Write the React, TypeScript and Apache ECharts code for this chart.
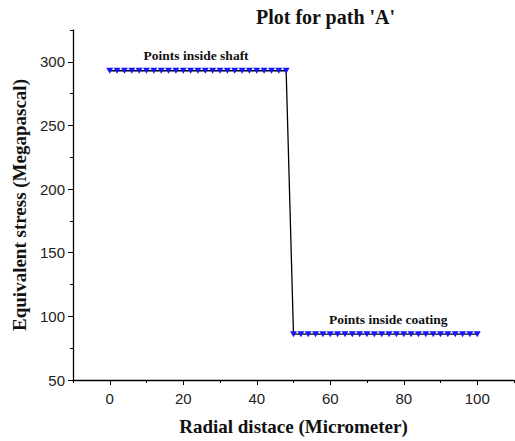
import React, { useEffect, useRef } from "react";
import * as echarts from "echarts";

const shaftX = [0, 2, 4, 6, 8, 10, 12, 14, 16, 18, 20, 22, 24, 26, 28, 30, 32, 34, 36, 38, 40, 42, 44, 46, 48];
const shaftY = 293;
const coatX = [50, 52, 54, 56, 58, 60, 62, 64, 66, 68, 70, 72, 74, 76, 78, 80, 82, 84, 86, 88, 90, 92, 94, 96, 98, 100];
const coatY = 86;
const xMajor = [0, 20, 40, 60, 80, 100];
const xMinor = [-10, 10, 30, 50, 70, 90, 110];
const yMajor = [50, 100, 150, 200, 250, 300];
const yMinor = [75, 125, 175, 225, 275, 325];

const serif = "Liberation Serif, Times New Roman, serif";

export default function App() {
  const ref = useRef<HTMLDivElement>(null);
  useEffect(() => {
    const chart = echarts.init(ref.current!, null, { renderer: "svg" });
    const data = [
      ...shaftX.map((x) => [x, shaftY]),
      ...coatX.map((x) => [x, coatY]),
    ];
    const labelFont = { color: "#222", fontSize: 15, fontFamily: "Liberation Sans, Arial, sans-serif" };
    chart.setOption({
      animation: false,
      title: {
        text: "Plot for path 'A'",
        left: 251,
        top: 2,
        textStyle: { fontFamily: serif, fontWeight: "bold", fontSize: 20, color: "#111" },
      },
      grid: { left: 73, right: 1, top: 30, bottom: 58 },
      xAxis: [
        {
          type: "value",
          min: -10,
          max: 110,
          axisLine: { show: true, onZero: false, lineStyle: { color: "#000", width: 1.3 } },
          splitLine: { show: false },
          axisTick: { show: true, customValues: xMajor, length: 5, lineStyle: { color: "#000" } },
          axisLabel: { ...labelFont, customValues: xMajor, margin: 11 },
          name: "Radial distace (Micrometer)",
          nameLocation: "middle",
          nameGap: 37,
          nameTextStyle: { fontFamily: serif, fontWeight: "bold", fontSize: 19, color: "#111" },
        },
        {
          type: "value",
          min: -10,
          max: 110,
          position: "bottom",
          axisLine: { show: false, onZero: false },
          splitLine: { show: false },
          axisTick: { show: true, customValues: xMinor, length: 3, lineStyle: { color: "#000" } },
          axisLabel: { show: false },
        },
      ],
      yAxis: [
        {
          type: "value",
          min: 50,
          max: 325,
          axisLine: { show: true, onZero: false, lineStyle: { color: "#000", width: 1.3 } },
          splitLine: { show: false },
          axisTick: { show: true, customValues: yMajor, length: 5, lineStyle: { color: "#000" } },
          axisLabel: { ...labelFont, customValues: yMajor, margin: 8 },
          name: "Equivalent stress (Megapascal)",
          nameLocation: "middle",
          nameGap: 43,
          nameTextStyle: { fontFamily: serif, fontWeight: "bold", fontSize: 19, color: "#111" },
        },
        {
          type: "value",
          min: 50,
          max: 325,
          position: "left",
          axisLine: { show: false, onZero: false },
          splitLine: { show: false },
          axisTick: { show: true, customValues: yMinor, length: 3, lineStyle: { color: "#000" } },
          axisLabel: { show: false },
        },
      ],
      series: [
        {
          type: "line",
          data,
          lineStyle: { color: "#000", width: 1.3 },
          symbol: "triangle",
          symbolRotate: 180,
          symbolSize: [7, 6],
          itemStyle: { color: "#1515ff" },
          markPoint: {
            symbol: "circle",
            symbolSize: 0,
            label: {
              show: true,
              fontFamily: serif,
              fontWeight: "bold",
              fontSize: 13.5,
              color: "#111",
              formatter: (p: any) => p.name,
            },
            data: [
              { name: "Points inside shaft", coord: [23.5, shaftY], label: { offset: [0, -15] } },
              { name: "Points inside coating", coord: [75.8, coatY], label: { offset: [0, -15] } },
            ],
          },
        },
      ],
    });
    return () => chart.dispose();
  }, []);
  return <div ref={ref} style={{ width: 515, height: 441, position: "absolute", left: 0, top: 0, background: "#fff" }} />;
}
